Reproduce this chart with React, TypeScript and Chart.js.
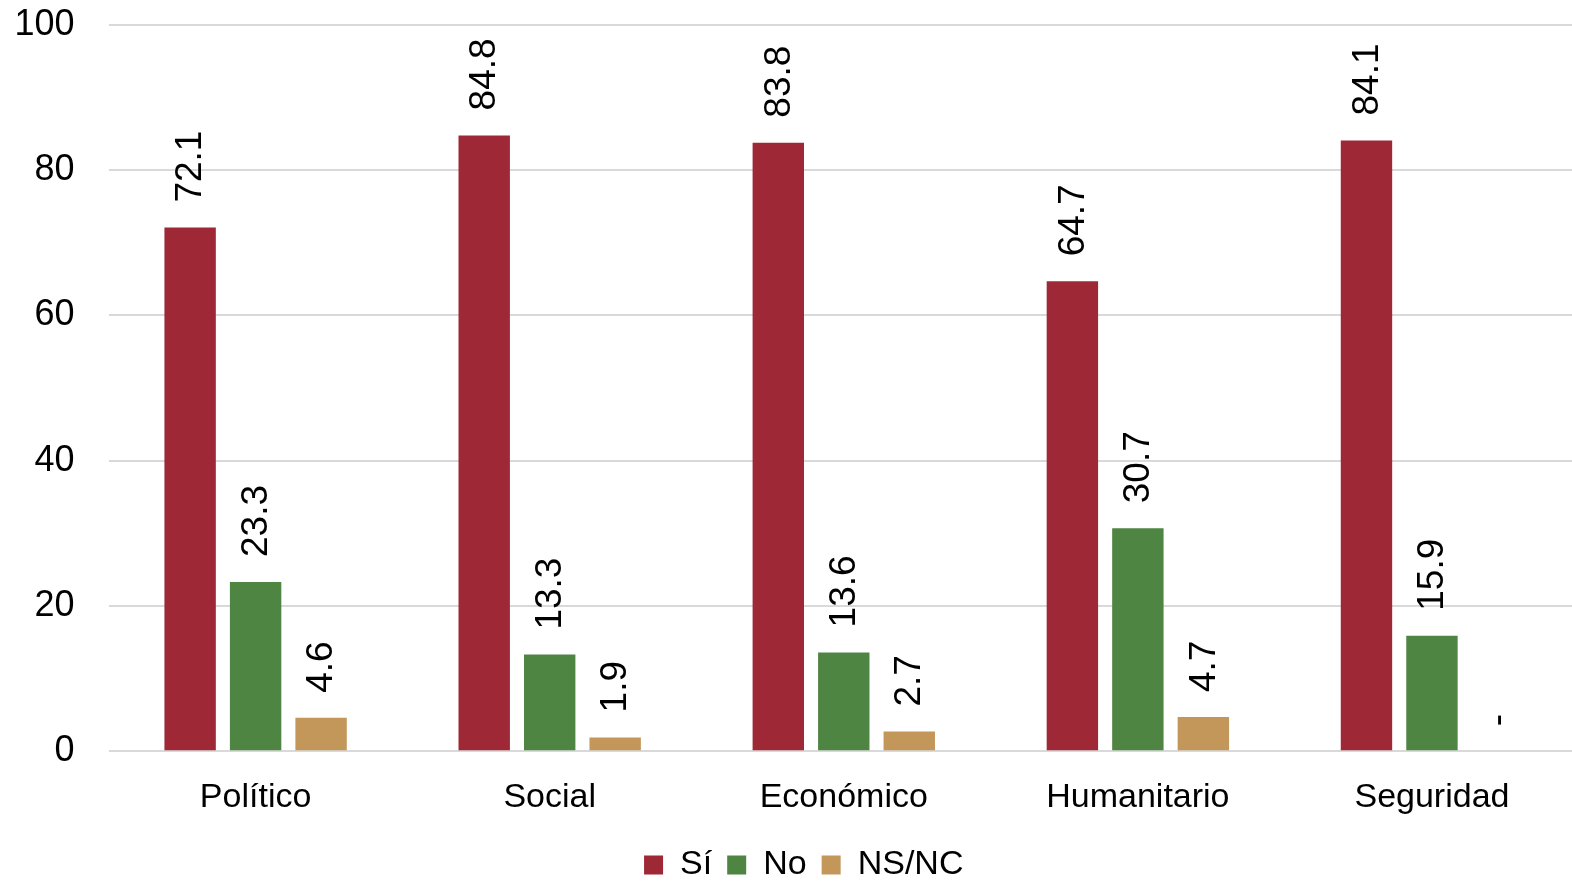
import React, { useEffect, useRef } from "react";
import { Chart, registerables } from "chart.js";

Chart.register(...registerables);

const categories = ["Político", "Social", "Económico", "Humanitario", "Seguridad"];
const siValues = [72.1, 84.8, 83.8, 64.7, 84.1];
const noValues = [23.3, 13.3, 13.6, 30.7, 15.9];
const nsncValues = [4.6, 1.9, 2.7, 4.7, 0];
const yTicks = [0, 20, 40, 60, 80, 100];

const FONT = '"Liberation Sans", Arial, sans-serif';

const barLabelPlugin = {
  id: "barLabels",
  afterDatasetsDraw(chart: any) {
    const ctx = chart.ctx;
    chart.data.datasets.forEach((ds: any, i: number) => {
      const meta = chart.getDatasetMeta(i);
      meta.data.forEach((bar: any, j: number) => {
        const v = ds.data[j];
        const text = v ? v.toFixed(1) : "-";
        ctx.save();
        ctx.translate(bar.x + 1, bar.y - 25);
        ctx.rotate(-Math.PI / 2);
        ctx.textAlign = "left";
        ctx.textBaseline = "middle";
        ctx.font = `37px ${FONT}`;
        ctx.fillStyle = "#000";
        ctx.fillText(text, 0, 0);
        ctx.restore();
      });
    });
  },
};

const legendShiftPlugin = {
  id: "legendShift",
  afterLayout(chart: any) {
    if (chart.legend) {
      chart.legend.left += 7;
      chart.legend.right += 7;
    }
  },
};

export default function App() {
  const ref = useRef<HTMLCanvasElement | null>(null);
  useEffect(() => {
    if (!ref.current) return;
    const chart = new Chart(ref.current, {
      type: "bar",
      data: {
        labels: categories,
        datasets: [
          { label: "Sí", data: siValues, backgroundColor: "#9E2836" },
          { label: "No", data: noValues, backgroundColor: "#4E8542" },
          { label: "NS/NC", data: nsncValues, backgroundColor: "#C3975A" },
        ],
      },
      options: {
        animation: false,
        responsive: true,
        maintainAspectRatio: false,
        datasets: { bar: { categoryPercentage: 0.668, barPercentage: 0.785 } },
        layout: { padding: { top: 25, left: 14.5, right: 0, bottom: 0 } },
        plugins: {
          tooltip: { enabled: false },
          legend: {
            position: "bottom",
            labels: {
              boxWidth: 19,
              boxHeight: 19,
              padding: 15,
              color: "#000",
              font: { family: FONT, size: 34 },
            },
          },
        },
        scales: {
          x: {
            grid: { display: false, drawTicks: false },
            border: { display: false },
            ticks: { color: "#000", font: { family: FONT, size: 34 }, padding: 26 },
            afterFit: (scale: any) => {
              scale.height -= 11;
            },
          },
          y: {
            min: 0,
            max: 100,
            afterBuildTicks: (scale: any) => {
              scale.ticks = yTicks.map((v) => ({ value: v }));
            },
            grid: {
              color: "#d9d9d9",
              lineWidth: 2,
              drawTicks: true,
              tickLength: 34,
              tickColor: "rgba(0,0,0,0)",
            },
            border: { display: false },
            ticks: { color: "#000", font: { family: FONT, size: 36 }, padding: 0 },
          },
        },
      },
      plugins: [barLabelPlugin, legendShiftPlugin],
    });
    return () => chart.destroy();
  }, []);
  return (
    <div style={{ position: "absolute", left: 0, top: 0, width: 1572, height: 881, overflow: "hidden", background: "#fff" }}>
      <div style={{ position: "absolute", left: 0, top: 0, width: 1579, height: 892 }}>
        <canvas ref={ref} />
      </div>
    </div>
  );
}
